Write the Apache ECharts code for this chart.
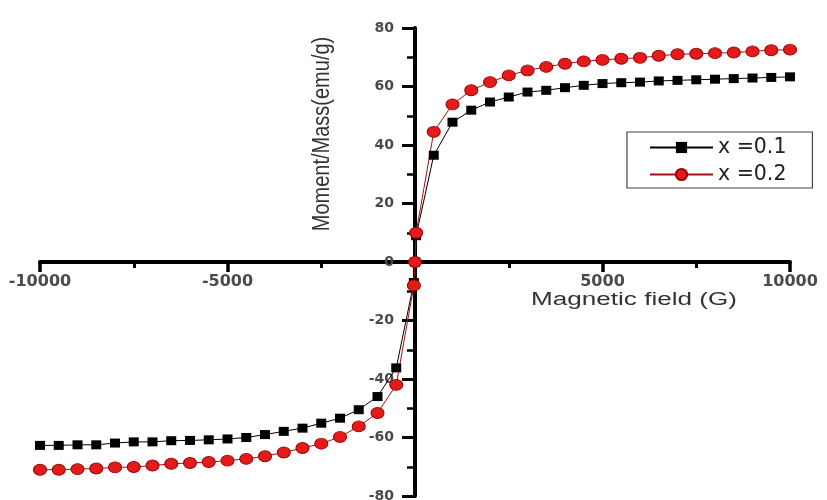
<!DOCTYPE html>
<html>
<head>
<meta charset="utf-8">
<script src="https://cdn.jsdelivr.net/npm/echarts@6/dist/echarts.min.js"></script>
<style>
  html, body { margin: 0; padding: 0; background: #ffffff; }
  #chart { width: 827px; height: 500px; }
</style>
</head>
<body>
<div id="chart"></div>
<script>
// Magnetic field (G)
var fields = [-10000, -9500, -9000, -8500, -8000, -7500, -7000, -6500, -6000, -5500,
              -5000, -4500, -4000, -3500, -3000, -2500, -2000, -1500, -1000, -500,
              -30, 0, 30,
              500, 1000, 1500, 2000, 2500, 3000, 3500, 4000, 4500, 5000,
              5500, 6000, 6500, 7000, 7500, 8000, 8500, 9000, 9500, 10000];
// Moment/Mass (emu/g), x = 0.1
var moment01 = [-62.7, -62.7, -62.5, -62.5, -61.9, -61.5, -61.5, -61.1, -61.0, -60.8,
                -60.5, -60.0, -59.0, -57.9, -56.8, -55.1, -53.4, -50.5, -46.0, -36.2,
                -7, 0, 9,
                36.5, 47.8, 51.9, 54.7, 56.4, 58.1, 58.7, 59.6, 60.4, 61.0,
                61.3, 61.5, 61.9, 62.1, 62.3, 62.5, 62.7, 62.9, 63.1, 63.3];
// Moment/Mass (emu/g), x = 0.2
var moment02 = [-71.0, -71.0, -70.8, -70.6, -70.2, -70.1, -69.6, -69.0, -68.7, -68.4,
                -67.9, -67.3, -66.4, -65.1, -63.6, -62.1, -59.8, -56.2, -51.6, -42.0,
                -8, 0, 10,
                44.5, 53.9, 58.7, 61.5, 63.8, 65.5, 66.7, 67.8, 68.6, 69.1,
                69.5, 69.8, 70.5, 71.0, 71.2, 71.4, 71.6, 72.0, 72.4, 72.6];
var seriesNames = ['x =0.1', 'x =0.2'];
var xAxisTitle = 'Magnetic field (G)';
var yAxisTitle = 'Moment/Mass(emu/g)';

function pairs(xs, ys) {
  var out = [];
  for (var i = 0; i < xs.length; i++) out.push([xs[i], ys[i]]);
  return out;
}

// grid geometry; axes are shifted so they cross at the origin
var G = { left: 40, right: 37, top: 28, bottom: 4, W: 827, H: 500 };
var gridW = G.W - G.left - G.right;
var gridH = G.H - G.top - G.bottom;
var X_MIN = -10000, X_MAX = 10000, Y_MIN = -80, Y_MAX = 80;
var yAxisOffset = -gridW * (0 - X_MIN) / (X_MAX - X_MIN);  // move y axis to x = 0
var xAxisOffset = -gridH * (0 - Y_MIN) / (Y_MAX - Y_MIN);  // move x axis to y = 0

var chart = echarts.init(document.getElementById('chart'), null, { renderer: 'canvas' });
var tickFont = 'DejaVu Sans';
var option = {
  animation: false,
  backgroundColor: '#ffffff',
  grid: { left: G.left, right: G.right, top: G.top, bottom: G.bottom, containLabel: false, outerBoundsMode: 'none' },
  legend: {
    data: seriesNames,
    orient: 'vertical',
    left: 627, top: 132,
    itemWidth: 63, itemHeight: 14, itemGap: 6,
    padding: [5, 26, 3, 22],
    borderColor: '#444', borderWidth: 1.2,
    backgroundColor: '#ffffff',
    textStyle: { fontFamily: 'DejaVu Sans', fontSize: 20.5, color: '#222' }
  },
  xAxis: {
    type: 'value', min: X_MIN, max: X_MAX, interval: 5000,
    position: 'bottom', offset: xAxisOffset,
    axisLine: { onZero: false, lineStyle: { color: '#000', width: 4 } },
    axisTick: { show: true, inside: false, length: 10, lineStyle: { color: '#000', width: 3.5 } },
    minorTick: { show: true, splitNumber: 2, length: 6, lineStyle: { color: '#000', width: 3 } },
    splitLine: { show: false },
    axisLabel: {
      margin: 12, fontFamily: tickFont, fontWeight: 'bold', fontSize: 16, color: '#4a4a4a',
      formatter: function (v) { return v === 0 ? '' : String(v); }
    }
  },
  yAxis: {
    type: 'value', min: Y_MIN, max: Y_MAX, interval: 20,
    position: 'left', offset: yAxisOffset,
    axisLine: { onZero: false, lineStyle: { color: '#000', width: 4 } },
    axisTick: { show: true, inside: false, length: 13, lineStyle: { color: '#000', width: 3 } },
    minorTick: { show: true, splitNumber: 2, length: 8, lineStyle: { color: '#000', width: 2.5 } },
    splitLine: { show: false },
    axisLabel: { margin: 21, fontFamily: tickFont, fontWeight: 'bold', fontSize: 14, color: '#4a4a4a' }
  },
  graphic: [
    {
      type: 'text', x: 323, y: 134, rotation: Math.PI / 2, scaleY: 1.15,
      style: { text: yAxisTitle, fontFamily: 'Liberation Sans', fontSize: 20, fill: '#333',
               align: 'center', verticalAlign: 'middle' }
    },
    {
      type: 'text', x: 634, y: 300, scaleX: 1.45,
      style: { text: xAxisTitle, fontFamily: 'Liberation Sans', fontSize: 18, fill: '#333',
               align: 'center', verticalAlign: 'middle' }
    }
  ],
  series: [
    {
      name: seriesNames[0], type: 'line', data: pairs(fields, moment01),
      symbol: 'rect', symbolSize: [10, 9],
      lineStyle: { color: '#000', width: 1 },
      itemStyle: { color: '#000' },
      emphasis: { disabled: true }
    },
    {
      name: seriesNames[1], type: 'line', data: pairs(fields, moment02),
      symbol: 'circle', symbolSize: [13, 11],
      lineStyle: { color: '#a01010', width: 1 },
      itemStyle: { color: '#e41b1b', borderColor: '#a00000', borderWidth: 1 },
      emphasis: { disabled: true }
    }
  ]
};
chart.setOption(option);
</script>
</body>
</html>
